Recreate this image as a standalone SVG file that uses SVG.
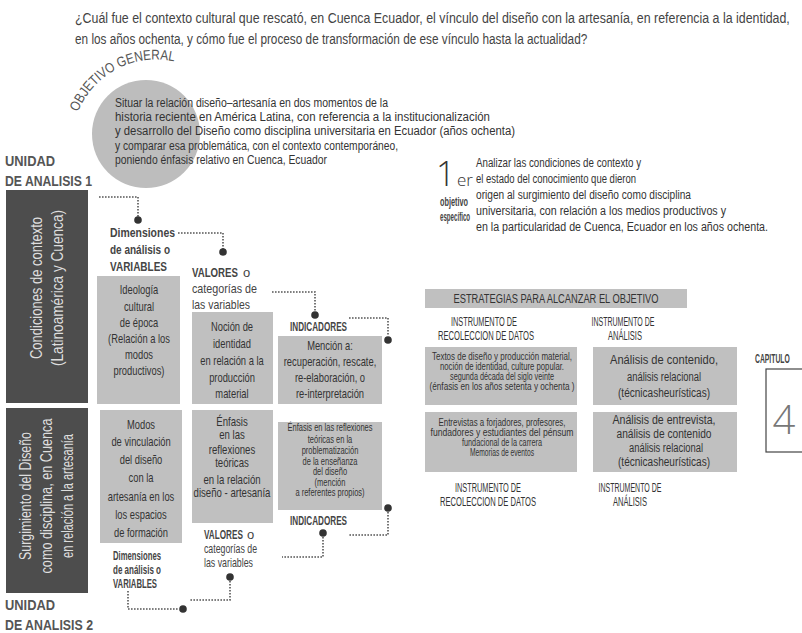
<svg xmlns="http://www.w3.org/2000/svg" width="802" height="633" viewBox="0 0 802 633">
<style>
text{font-family:"Liberation Sans",Arial,sans-serif;}
.t{fill:#444;font-size:14.5px}
.obj{fill:#333;font-size:12px}
.dark{fill:#4d4d4d}
.box{fill:#c0c0c0}
.wt{fill:#dedede;font-size:16px;text-anchor:middle}
.bt{fill:#333;font-size:13px;text-anchor:middle}
.sm{fill:#333;font-size:10px;text-anchor:middle}
.md{fill:#333;font-size:12.5px;text-anchor:middle}
.hd{fill:#333;font-size:12px;text-anchor:middle}
.lb{fill:#444;font-size:13px;font-weight:bold}
.lr{fill:#444;font-size:13px}
.un{fill:#555;font-size:15px;font-weight:bold}
.con{fill:none;stroke:#555;stroke-width:1.6;stroke-dasharray:1.6 1.4}
.dot{fill:#333}
.thin{font-family:"Open Sans","Liberation Sans",sans-serif;font-weight:300}
</style>
<defs>
<path id="arc" d="M78,112 A84,84 0 0 1 212,81"/>
</defs>
<rect width="802" height="633" fill="#fff"/>

<g id="title">
<text class="t" transform="translate(75,23) scale(0.75,1)" textLength="953" lengthAdjust="spacingAndGlyphs">¿Cuál fue el contexto cultural que rescató, en Cuenca Ecuador, el vínculo del diseño con la artesanía, en referencia a la identidad,</text>
<text class="t" transform="translate(75,44) scale(0.75,1)" textLength="683" lengthAdjust="spacingAndGlyphs">en los años ochenta, y cómo fue el proceso de transformación de ese vínculo hasta la actualidad?</text>
</g>

<g id="objetivo-general">
<circle cx="146" cy="134" r="54" fill="#bdbdbd"/>
<text fill="#555" font-size="14"><textPath href="#arc" textLength="118" lengthAdjust="spacingAndGlyphs">OBJETIVO GENERAL</textPath></text>
<text class="obj" x="115" y="107" textLength="273" lengthAdjust="spacingAndGlyphs">Situar la relación diseño–artesanía en dos momentos de la</text>
<text class="obj" x="115" y="121" textLength="375" lengthAdjust="spacingAndGlyphs">historia reciente en América Latina, con referencia a la institucionalización</text>
<text class="obj" x="115" y="135" textLength="400" lengthAdjust="spacingAndGlyphs">y desarrollo del Diseño como disciplina universitaria en Ecuador (años ochenta)</text>
<text class="obj" x="115" y="150" textLength="283" lengthAdjust="spacingAndGlyphs">y comparar esa problemática, con el contexto contemporáneo,</text>
<text class="obj" x="115" y="164" textLength="212" lengthAdjust="spacingAndGlyphs">poniendo énfasis relativo en Cuenca, Ecuador</text>
</g>

<g id="unidad1">
<text class="un" x="5" y="166" textLength="50" lengthAdjust="spacingAndGlyphs">UNIDAD</text>
<text class="un" x="5" y="186" textLength="87" lengthAdjust="spacingAndGlyphs">DE ANALISIS 1</text>
</g>
<g id="unidad2">
<text class="un" x="5" y="610" textLength="50" lengthAdjust="spacingAndGlyphs">UNIDAD</text>
<text class="un" x="5" y="630" textLength="88" lengthAdjust="spacingAndGlyphs">DE ANALISIS 2</text>
</g>

<g id="condiciones">
<rect class="dark" x="6" y="190" width="82" height="213"/>
<text class="wt" transform="translate(42,288) rotate(-90)" textLength="142" lengthAdjust="spacingAndGlyphs">Condiciones de contexto</text>
<text class="wt" transform="translate(63,288) rotate(-90)" textLength="156" lengthAdjust="spacingAndGlyphs">(Latinoamérica y Cuenca)</text>
</g>

<g id="surgimiento">
<rect class="dark" x="6" y="408" width="82" height="185"/>
<text class="wt" transform="translate(31,496) rotate(-90)" textLength="128" lengthAdjust="spacingAndGlyphs">Surgimiento del Diseño</text>
<text class="wt" transform="translate(52,496) rotate(-90)" textLength="155" lengthAdjust="spacingAndGlyphs">como disciplina, en Cuenca</text>
<text class="wt" transform="translate(73,496) rotate(-90)" textLength="124" lengthAdjust="spacingAndGlyphs">en relación a la artesanía</text>
</g>

<g id="dimensiones1">
<text class="lb" x="110" y="237" textLength="65" lengthAdjust="spacingAndGlyphs">Dimensiones</text>
<text class="lb" x="110" y="254" textLength="60" lengthAdjust="spacingAndGlyphs">de análisis o</text>
<text class="lb" x="110" y="271" textLength="57" lengthAdjust="spacingAndGlyphs">VARIABLES</text>
</g>
<g id="valores1">
<text class="lb" transform="translate(192,277) scale(0.73,1)" textLength="63" lengthAdjust="spacingAndGlyphs">VALORES</text>
<text class="lr" x="243" y="277">o</text>
<text class="lr" x="192" y="293" textLength="65" lengthAdjust="spacingAndGlyphs">categorías de</text>
<text class="lr" x="192" y="309" textLength="58" lengthAdjust="spacingAndGlyphs">las variables</text>
</g>
<g id="indicadores1">
<text class="lb" x="290" y="331" textLength="57" lengthAdjust="spacingAndGlyphs">INDICADORES</text>
</g>

<g id="ideologia">
<rect class="box" x="97" y="276" width="83" height="128"/>
<g transform="translate(139,0) scale(0.72,1)">
<text class="bt" x="0" y="294">Ideología</text>
<text class="bt" x="0" y="311">cultural</text>
<text class="bt" x="0" y="327">de época</text>
<text class="bt" x="0" y="343">(Relación a los</text>
<text class="bt" x="0" y="359">modos</text>
<text class="bt" x="0" y="375">productivos)</text>
</g>
</g>
<g id="nocion">
<rect class="box" x="192" y="312" width="81" height="92"/>
<g transform="translate(232,0) scale(0.72,1)">
<text class="bt" x="0" y="331">Noción de</text>
<text class="bt" x="0" y="348">identidad</text>
<text class="bt" x="0" y="365">en relación a la</text>
<text class="bt" x="0" y="382">producción</text>
<text class="bt" x="0" y="398">material</text>
</g>
</g>
<g id="mencion">
<rect class="box" x="278" y="336" width="104" height="68"/>
<g transform="translate(330,0) scale(0.72,1)">
<text class="bt" x="0" y="350">Mención a:</text>
<text class="bt" x="0" y="366">recuperación, rescate,</text>
<text class="bt" x="0" y="382">re-elaboración, o</text>
<text class="bt" x="0" y="398">re-interpretación</text>
</g>
</g>

<g id="modos">
<rect class="box" x="100" y="410" width="82" height="133"/>
<g transform="translate(141,0) scale(0.72,1)">
<text class="bt" x="0" y="429">Modos</text>
<text class="bt" x="0" y="446">de vinculación</text>
<text class="bt" x="0" y="464">del diseño</text>
<text class="bt" x="0" y="482">con la</text>
<text class="bt" x="0" y="501">artesanía en los</text>
<text class="bt" x="0" y="519">los espacios</text>
<text class="bt" x="0" y="537">de formación</text>
</g>
</g>
<g id="enfasis">
<rect class="box" x="192" y="410" width="81" height="113"/>
<g transform="translate(232,0) scale(0.74,1)">
<text class="bt" x="0" y="426">Énfasis</text>
<text class="bt" x="0" y="439">en las</text>
<text class="bt" x="0" y="454">reflexiones</text>
<text class="bt" x="0" y="467">teóricas</text>
<text class="bt" x="0" y="484">en la relación</text>
<text class="bt" x="0" y="497">diseño - artesanía</text>
</g>
</g>
<g id="enfasis-ensenanza">
<rect class="box" x="278" y="422" width="104" height="88"/>
<g transform="translate(330,0) scale(0.75,1)">
<text class="sm" x="0" y="431">Énfasis en las reflexiones</text>
<text class="sm" x="0" y="443">teóricas en la</text>
<text class="sm" x="0" y="454">problematización</text>
<text class="sm" x="0" y="465">de la enseñanza</text>
<text class="sm" x="0" y="475">del diseño</text>
<text class="sm" x="0" y="486">(mención</text>
<text class="sm" x="0" y="496">a referentes propios)</text>
</g>
</g>

<g id="indicadores2">
<text class="lb" x="290" y="525" textLength="57" lengthAdjust="spacingAndGlyphs">INDICADORES</text>
</g>
<g id="valores2">
<text class="lb" transform="translate(204,539) scale(0.67,1)" font-size="12" textLength="58" lengthAdjust="spacingAndGlyphs">VALORES</text>
<text class="lr" x="247" y="539" font-size="12">o</text>
<text class="lr" x="204" y="553" font-size="12" textLength="53" lengthAdjust="spacingAndGlyphs">categorías de</text>
<text class="lr" x="204" y="567" font-size="12" textLength="49" lengthAdjust="spacingAndGlyphs">las variables</text>
</g>
<g id="dimensiones2">
<text class="lb" x="113" y="560" font-size="12" textLength="48" lengthAdjust="spacingAndGlyphs">Dimensiones</text>
<text class="lb" x="113" y="574" font-size="12" textLength="48" lengthAdjust="spacingAndGlyphs">de análisis o</text>
<text class="lb" x="113" y="588" font-size="12" textLength="44" lengthAdjust="spacingAndGlyphs">VARIABLES</text>
</g>

<g id="connectors">
<path class="con" d="M99,197 H138 V217"/>
<circle class="dot" cx="138" cy="220" r="3.8"/>
<path class="con" d="M178,233 H223 V249"/>
<circle class="dot" cx="223" cy="252" r="3.8"/>
<path class="con" d="M272,292 H315 V311"/>
<circle class="dot" cx="315" cy="315" r="3.8"/>
<path class="con" d="M349,318 H388 V336"/>
<circle class="dot" cx="388" cy="340" r="3.8"/>
<path class="con" d="M388,512 V535 H348"/>
<circle class="dot" cx="388" cy="508" r="3.8"/>
<path class="con" d="M323,537 V557 H282"/>
<circle class="dot" cx="323" cy="533" r="3.8"/>
<path class="con" d="M230,581 V600 H190"/>
<circle class="dot" cx="230" cy="577" r="3.8"/>
<path class="con" d="M128,591 V609 H179"/>
<circle class="dot" cx="183" cy="609" r="3.8"/>
</g>

<g id="objetivo-especifico">
<text class="thin" x="436" y="186" font-size="34" fill="#333">1</text>
<text class="thin" x="457" y="186" font-size="17" fill="#333">er</text>
<text class="lb" transform="translate(440,206) scale(0.7,1)" font-size="10.5" textLength="40" lengthAdjust="spacingAndGlyphs">objetivo</text>
<text class="lb" transform="translate(440,221) scale(0.59,1)" font-size="10.5" textLength="51" lengthAdjust="spacingAndGlyphs">específico</text>
<text class="obj" fill="#444" x="476" y="167" textLength="165" lengthAdjust="spacingAndGlyphs">Analizar las condiciones de contexto y</text>
<text class="obj" x="476" y="183" textLength="160" lengthAdjust="spacingAndGlyphs">el estado del conocimiento que dieron</text>
<text class="obj" x="476" y="199" textLength="215" lengthAdjust="spacingAndGlyphs">origen al surgimiento del diseño como disciplina</text>
<text class="obj" x="476" y="215" textLength="250" lengthAdjust="spacingAndGlyphs">universitaria, con relación a los medios productivos y</text>
<text class="obj" x="476" y="231" textLength="292" lengthAdjust="spacingAndGlyphs">en la particularidad de Cuenca, Ecuador en los años ochenta.</text>
</g>

<g id="estrategias">
<rect class="box" x="425" y="289" width="262" height="19"/>
<text class="md" x="556" y="303" font-size="13" textLength="205" lengthAdjust="spacingAndGlyphs">ESTRATEGIAS PARA ALCANZAR EL OBJETIVO</text>
</g>
<g id="head-recoleccion">
<text class="hd" x="484" y="326" textLength="66" lengthAdjust="spacingAndGlyphs">INSTRUMENTO DE</text>
<text class="hd" x="486" y="340" textLength="96" lengthAdjust="spacingAndGlyphs">RECOLECCION DE DATOS</text>
</g>
<g id="head-analisis">
<text class="hd" x="623" y="326" textLength="63" lengthAdjust="spacingAndGlyphs">INSTRUMENTO DE</text>
<text class="hd" x="625" y="340" textLength="34" lengthAdjust="spacingAndGlyphs">ANÁLISIS</text>
</g>
<g id="textos">
<rect class="box" x="425" y="347" width="152" height="58"/>
<text class="sm" x="502" y="360" textLength="140" lengthAdjust="spacingAndGlyphs">Textos de diseño y producción material,</text>
<text class="sm" x="502" y="370" textLength="124" lengthAdjust="spacingAndGlyphs">noción de identidad, culture popular.</text>
<text class="sm" x="502" y="380" textLength="104" lengthAdjust="spacingAndGlyphs">segunda década del siglo veinte</text>
<text class="sm" x="502" y="390" textLength="145" lengthAdjust="spacingAndGlyphs">(énfasis en los años setenta y ochenta )</text>
</g>
<g id="analisis-contenido">
<rect class="box" x="593" y="347" width="144" height="58"/>
<text class="md" x="664" y="364" textLength="108" lengthAdjust="spacingAndGlyphs">Análisis de contenido,</text>
<text class="md" x="664" y="381" textLength="74" lengthAdjust="spacingAndGlyphs">análisis relacional</text>
<text class="md" x="664" y="397" textLength="92" lengthAdjust="spacingAndGlyphs">(técnicasheurísticas)</text>
</g>
<g id="entrevistas">
<rect class="box" x="425" y="412" width="152" height="60"/>
<text class="sm" x="502" y="426" textLength="127" lengthAdjust="spacingAndGlyphs">Entrevistas a forjadores, profesores,</text>
<text class="sm" x="502" y="436" textLength="143" lengthAdjust="spacingAndGlyphs">fundadores y estudiantes del pénsum</text>
<text class="sm" x="502" y="446" textLength="80" lengthAdjust="spacingAndGlyphs">fundacional de la carrera</text>
<text class="sm" x="502" y="456" textLength="64" lengthAdjust="spacingAndGlyphs">Memorias de eventos</text>
</g>
<g id="analisis-entrevista">
<rect class="box" x="593" y="412" width="144" height="60"/>
<text class="md" x="664" y="424" textLength="103" lengthAdjust="spacingAndGlyphs">Análisis de entrevista,</text>
<text class="md" x="664" y="438" textLength="95" lengthAdjust="spacingAndGlyphs">análisis de contenido</text>
<text class="md" x="666" y="452" textLength="74" lengthAdjust="spacingAndGlyphs">análisis relacional</text>
<text class="md" x="664" y="466" textLength="92" lengthAdjust="spacingAndGlyphs">(técnicasheurísticas)</text>
</g>
<g id="foot-recoleccion">
<text class="hd" x="488" y="492" textLength="66" lengthAdjust="spacingAndGlyphs">INSTRUMENTO DE</text>
<text class="hd" x="488" y="506" textLength="96" lengthAdjust="spacingAndGlyphs">RECOLECCION DE DATOS</text>
</g>
<g id="foot-analisis">
<text class="hd" x="630" y="492" textLength="63" lengthAdjust="spacingAndGlyphs">INSTRUMENTO DE</text>
<text class="hd" x="630" y="506" textLength="34" lengthAdjust="spacingAndGlyphs">ANÁLISIS</text>
</g>

<g id="capitulo">
<text class="lb" transform="translate(755,363) scale(0.6,1)" font-size="12" fill="#333" textLength="58" lengthAdjust="spacingAndGlyphs">CAPITULO</text>
<rect x="766" y="369" width="50" height="83" fill="#fff" stroke="#444" stroke-width="1.2"/>
<text class="thin" x="784" y="434" font-size="40" fill="#777" text-anchor="middle">4</text>
</g>
</svg>
